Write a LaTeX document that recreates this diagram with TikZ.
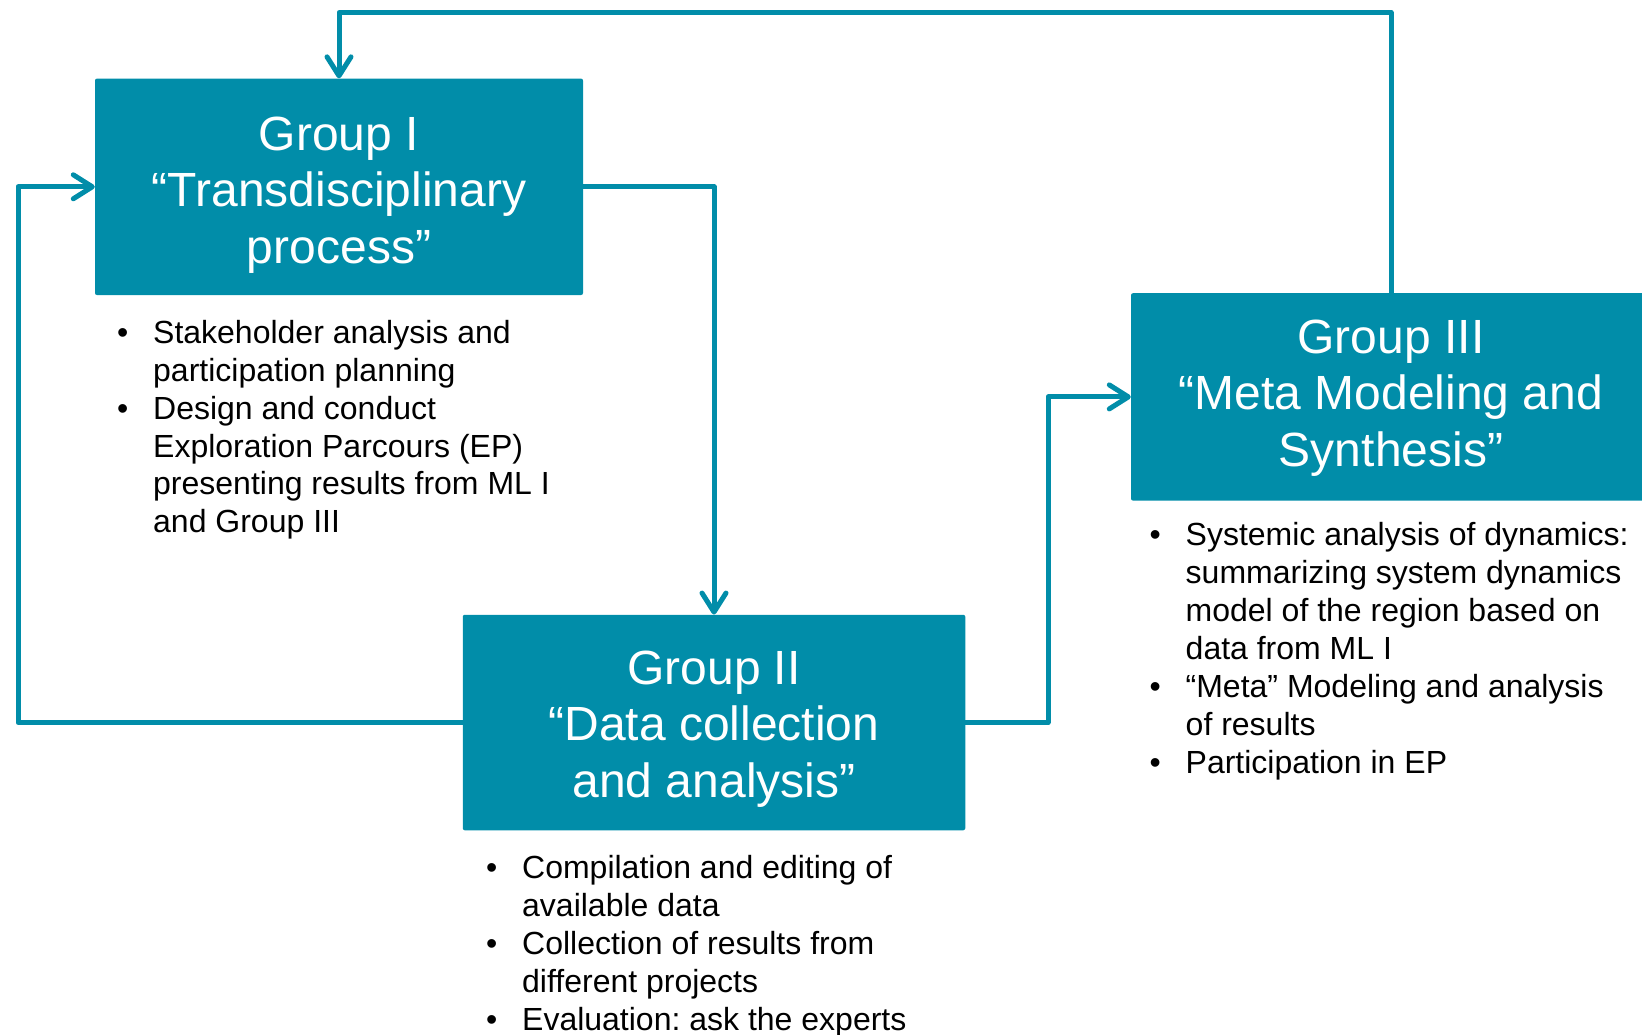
\documentclass[tikz,border=0pt]{standalone}
\usepackage{fontspec}
\setmainfont{Liberation Sans}
\usetikzlibrary{arrows.meta}
\definecolor{tealbox}{RGB}{1,141,169}
\newcommand{\mybul}{\makebox[36pt][l]{\textbullet}}
\newcommand{\myind}{\hspace*{36pt}}
\newcommand{\mytop}[1]{\rule{0pt}{#1}}
\frenchspacing
\begin{document}
\begin{tikzpicture}[x=1pt,y=-1pt,
  box/.style={fill=tealbox, rounded corners=2pt, text=white, align=center,
    font=\fontsize{48}{56.5}\selectfont\frenchspacing, inner sep=0pt},
  conn/.style={draw=tealbox, line width=5pt, line join=round},
  arr/.style={-{Straight Barb[length=19pt,width=24pt,round]}},
  lst/.style={anchor=base west, inner sep=0pt, font=\fontsize{32}{38}\selectfont\frenchspacing}]
\useasboundingbox (0,0) rectangle (1642,1035);
\clip (0,0) rectangle (1642,1035);

\node[box, minimum width=488pt, minimum height=216.5pt] (b1) at (339,186.8)
  {\mytop{50pt}Group I\\“Transdisciplinary\\process”};
\node[box, minimum width=502.5pt, minimum height=215.5pt] (b2) at (714,722.5)
  {\mytop{46pt}Group II\\“Data collection\\and analysis”};
\node[box, minimum width=520pt, minimum height=207.4pt] (b3) at (1391,396.9)
  {\mytop{36pt}Group III\\“Meta Modeling and\\Synthesis”};

\node[lst] (l1) at (117,343) {\begin{tabular}[t]{@{}l@{}}
\mybul Stakeholder analysis and\\
\myind participation planning\\
\mybul Design and conduct\\
\myind Exploration Parcours (EP)\\
\myind presenting results from ML I\\
\myind and Group III
\end{tabular}};

\node[lst] (l2) at (486,878) {\begin{tabular}[t]{@{}l@{}}
\mybul Compilation and editing of\\
\myind available data\\
\mybul Collection of results from\\
\myind different projects\\
\mybul Evaluation: ask the experts
\end{tabular}};

\node[lst] (l3) at (1149.5,545) {\begin{tabular}[t]{@{}l@{}}
\mybul Systemic analysis of dynamics:\\
\myind summarizing system dynamics\\
\myind model of the region based on\\
\myind data from ML I\\
\mybul “Meta” Modeling and analysis\\
\myind of results\\
\mybul Participation in EP
\end{tabular}};

\coordinate (topy) at (0,12.5);
\coordinate (lx) at (18,0);
\coordinate (rx) at (1048,0);
\draw[conn,arr] (b3.north) -- (b3.north |- topy) -- (b1.north |- topy) -- (b1.north);
\draw[conn,arr] (b1.east) -| (b2.north);
\draw[conn,arr] (b2.west) -- (lx |- b2.west) -- (lx |- b1.west) -- (b1.west);
\draw[conn,arr] (b2.east) -- (rx |- b2.east) -- (rx |- b3.west) -- (b3.west);
\end{tikzpicture}
\end{document}
